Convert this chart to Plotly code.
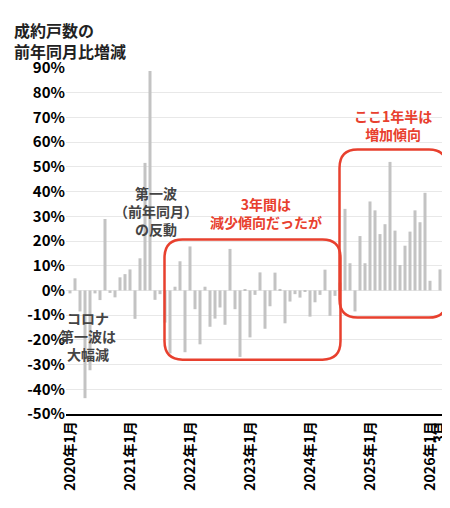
import plotly.graph_objects as go

months = list(range(75))
values = [-1.2, 4.9, -8.5, -43.6, -32.3, -1.2, -3.9, 28.9, -1.0, -2.8, 5.3, 6.6,
          8.5, -11.5, 13.0, 51.6, 88.8, -3.8, -1.5, -13.0, -25.5, 1.5, 11.8, -25.0,
          17.8, -7.6, -21.8, 1.5, -14.7, -11.4, -6.9, -13.9, 16.8, -7.6, -26.9, 0.3,
          -19.0, -1.8, 7.3, -15.5, -6.4, 7.2, 0.6, -13.3, -4.5, -1.5, -2.9, -0.3,
          -10.6, -4.8, -1.8, 8.4, -10.3, -2.2, 3.2, 33.0, 11.0, -8.5, 22.0, 11.0,
          36.0, 32.4, 22.8, 26.8, 52.0, 24.2, 10.3, 18.1, 23.8, 32.4, 27.6, 39.5,
          3.9, 0.0, 8.5]
tick_idx = [0, 12, 24, 36, 48, 60, 72, 74]
tick_text = ["2020年1月", "2021年1月", "2022年1月", "2023年1月", "2024年1月",
             "2025年1月", "2026年1月", "3月"]
y_ticks = list(range(-50, 91, 10))
y_tick_text = [f"{v}%" for v in y_ticks]

FONT = "Noto Sans CJK JP"
fig = go.Figure(go.Bar(x=months, y=values, marker_color="#c3c3c3", width=0.6,
                       marker_line_width=0))

def rrect(x0, x1, y0, y1, rx, ry):
    return (f"M{x0+rx},{y1} L{x1-rx},{y1} Q{x1},{y1} {x1},{y1-ry} "
            f"L{x1},{y0+ry} Q{x1},{y0} {x1-rx},{y0} L{x0+rx},{y0} "
            f"Q{x0},{y0} {x0},{y0+ry} L{x0},{y1-ry} Q{x0},{y1} {x0+rx},{y1} Z")

red = "#e8402e"
fig.add_shape(type="path", path=rrect(18.9, 54.1, -28.0, 20.6, 3.6, 7.5),
              line=dict(color=red, width=2.5))
fig.add_shape(type="path", path=rrect(53.9, 75.4, -11.0, 57.0, 3.6, 7.5),
              line=dict(color=red, width=2.5))

W, H = 450, 508
L, R, T, B = 58, 10, 60, 102
PW, PH = W - L - R, H - T - B

def px(x, y):
    return ((x - L) / PW, (H - B - y) / PH)

def ann(x, y, text, color, size=14):
    fig.add_annotation(x=x, y=y, xref="paper", yref="paper", text=text,
                       showarrow=False, xanchor="center", yanchor="middle",
                       font=dict(family=FONT, size=size, color=color, weight="bold"))

ann(*px(80, 328), "コロナ<br>第一波は<br>大幅減", "#444444")
ann(*px(148, 203), "第一波<br>（前年同月）<br>の反動", "#444444")
ann(*px(258, 205), "3年間は<br>減少傾向だったが", red)
ann(*px(385, 117), "ここ1年半は<br>増加傾向", red)

tx, ty = px(4, 8)
fig.add_annotation(x=tx, y=ty, xref="paper", yref="paper",
                   text="成約戸数の<br>前年同月比増減", showarrow=False,
                   xanchor="left", yanchor="top", align="left",
                   font=dict(family=FONT, size=16, color="#222222", weight="bold"))

fig.update_layout(
    width=W, height=H, margin=dict(l=L, r=R, t=T, b=B),
    plot_bgcolor="white", paper_bgcolor="white", showlegend=False,
    font=dict(family=FONT, color="black"),
    xaxis=dict(range=[-0.8, 75.6], tickvals=tick_idx, ticktext=tick_text,
               tickangle=-90, showgrid=False, showline=True, linecolor="black",
               linewidth=1.5, ticks="", automargin=False,
               tickfont=dict(size=14, weight="bold")),
    yaxis=dict(range=[-50, 90], tickvals=y_ticks, ticktext=y_tick_text,
               showgrid=True, gridcolor="#e8e8e8", zeroline=False, ticks="",
               automargin=False, tickfont=dict(size=15, weight="bold")),
)
fig.write_html("out.html")
